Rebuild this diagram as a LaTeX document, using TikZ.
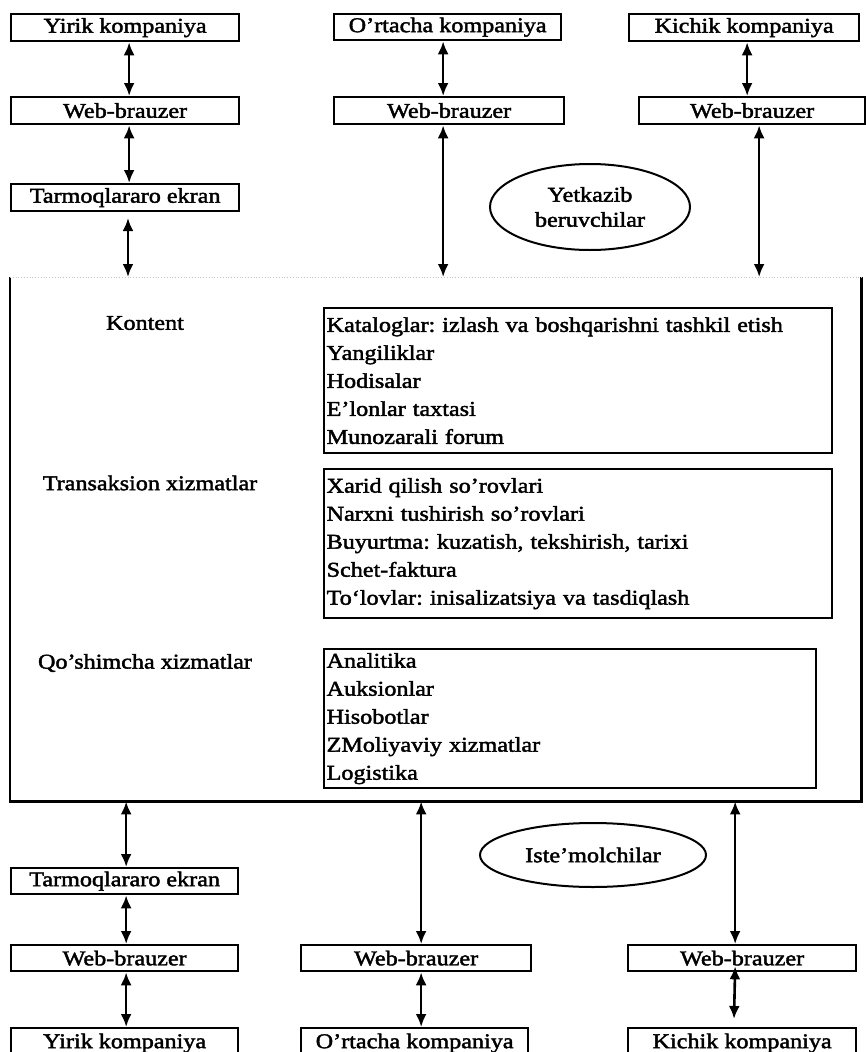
\documentclass[tikz,border=0pt]{standalone}
\usepackage{fontspec}
\setmainfont{Liberation Serif}[FakeStretch=1.15,FakeBold=2]
\frenchspacing
\usetikzlibrary{arrows.meta,shapes.geometric}
\begin{document}
\begin{tikzpicture}[x=1pt,y=-1pt,
  every node/.style={font=\fontsize{21}{28}\selectfont},
  box/.style={draw,line width=2.3pt,inner sep=0pt,anchor=north west},
  listbox/.style={draw,line width=2.3pt,inner xsep=1.5pt,inner ysep=0pt,anchor=north west,align=left},
  bub/.style={draw,ellipse,line width=2pt,inner sep=0pt,align=center,font=\fontsize{21}{25}\selectfont},
  lbl/.style={inner sep=0pt},
  link/.style={line width=2.6pt,{Latex[length=13pt,width=11pt]}-{Latex[length=13pt,width=11pt]}},
  frame/.style={line width=2.3pt}]
\useasboundingbox (0,0) rectangle (865,1052);

% top row
\node[box,minimum width=228pt,minimum height=27pt] (yt) at (10,13) {Yirik kompaniya};
\node[box,minimum width=227pt,minimum height=26pt] (ot) at (333,13) {O'rtacha kompaniya};
\node[box,minimum width=230pt,minimum height=27pt] (kt) at (628,13) {Kichik kompaniya};
\node[box,minimum width=228pt,minimum height=27pt] (wt1) at (10,96) {Web-brauzer};
\node[box,minimum width=230pt,minimum height=27pt] (wt2) at (333,96) {Web-brauzer};
\node[box,minimum width=226pt,minimum height=27pt] (wt3) at (638,96) {Web-brauzer};
\node[box,minimum width=228pt,minimum height=27pt] (ft) at (10,183) {Tarmoqlararo ekran};
\node[bub,minimum width=200pt,minimum height=86pt] (sup) at (590,207) {Yetkazib\\beruvchilar};

% platform
\node[inner sep=0pt,minimum width=851pt,minimum height=524pt,anchor=north west] (plat) at (10,277) {};
\draw[frame] (plat.north west) -- (plat.south west) -- (plat.south east) -- (plat.north east);
\draw[gray!45,line width=0.8pt,dotted] (plat.north west) -- (plat.north east);

\node[lbl] (kon) at (145,323) {Kontent};
\node[lbl] (tra) at (150,483) {Transaksion xizmatlar};
\node[lbl] (qos) at (145,663) {Qo'shimcha xizmatlar};

\node[listbox,minimum width=508pt,minimum height=145pt,text width=503pt] (kl) at (323,307)
  {Kataloglar: izlash va boshqarishni tashkil etish\\Yangiliklar\\Hodisalar\\E'lonlar taxtasi\\Munozarali forum};
\node[listbox,minimum width=508pt,minimum height=149pt,text width=503pt] (tl) at (323,468)
  {Xarid qilish so'rovlari\\Narxni tushirish so'rovlari\\Buyurtma: kuzatish, tekshirish, tarixi\\Schet-faktura\\To`lovlar: inisalizatsiya va tasdiqlash};
\node[listbox,minimum width=492pt,minimum height=139pt,text width=487pt] (ql) at (323,648)
  {Analitika\\Auksionlar\\Hisobotlar\\ZMoliyaviy xizmatlar\\Logistika};

% bottom
\node[box,minimum width=227pt,minimum height=26pt] (fb) at (10,867) {Tarmoqlararo ekran};
\node[box,minimum width=227pt,minimum height=26pt] (wb1) at (10,944) {Web-brauzer};
\node[box,minimum width=230pt,minimum height=26pt] (wb2) at (300,944) {Web-brauzer};
\node[box,minimum width=228pt,minimum height=26pt] (wb3) at (627,944) {Web-brauzer};
\node[box,minimum width=227pt,minimum height=30pt] (yb) at (10,1027) {Yirik kompaniya};
\node[box,minimum width=227pt,minimum height=30pt] (ob) at (300,1027) {O'rtacha kompaniya};
\node[box,minimum width=228pt,minimum height=30pt] (kb) at (627,1027) {Kichik kompaniya};
\node[bub,minimum width=226pt,minimum height=64pt] (con) at (593,855) {Iste'molchilar};

% top connectors
\draw[link] ([xshift=4pt]yt.south) -- ([xshift=4pt]wt1.north);
\draw[link] ([xshift=4pt]wt1.south) -- ([xshift=4pt]ft.north);
\coordinate (fa) at (128,218);
\draw[link] (fa) -- (fa |- plat.north);
\draw[link] ([xshift=-4.5pt]ot.south) -- ([xshift=-4.5pt]ot.south |- wt2.north);
\draw[link] ([xshift=-6pt]wt2.south) -- ([xshift=-6pt]wt2.south |- plat.north);
\draw[link] ([xshift=3pt]kt.south) -- ([xshift=3pt]kt.south |- wt3.north);
\draw[link] ([xshift=7pt]wt3.south) -- ([xshift=7pt]wt3.south |- plat.north);

% bottom connectors
\draw[link] ([xshift=1.5pt]fb.north |- plat.south) -- ([xshift=1.5pt]fb.north);
\draw[link] ([xshift=1.5pt]fb.south) -- ([xshift=1.5pt]wb1.north);
\draw[link] ([xshift=1.5pt]wb1.south) -- ([xshift=1.5pt]yb.north);
\draw[link] ([xshift=5pt]wb2.north |- plat.south) -- ([xshift=5pt]wb2.north);
\draw[link] ([xshift=5pt]wb2.south) -- ([xshift=5pt]wb2.south |- ob.north);
\draw[link] ([xshift=-7pt]wb3.north |- plat.south) -- ([xshift=-7pt]wb3.north);
\coordinate (ka) at (734,1019);
\draw[link] ([xshift=-7pt,yshift=6pt]wb3.south) -- (ka);
\end{tikzpicture}
\end{document}
